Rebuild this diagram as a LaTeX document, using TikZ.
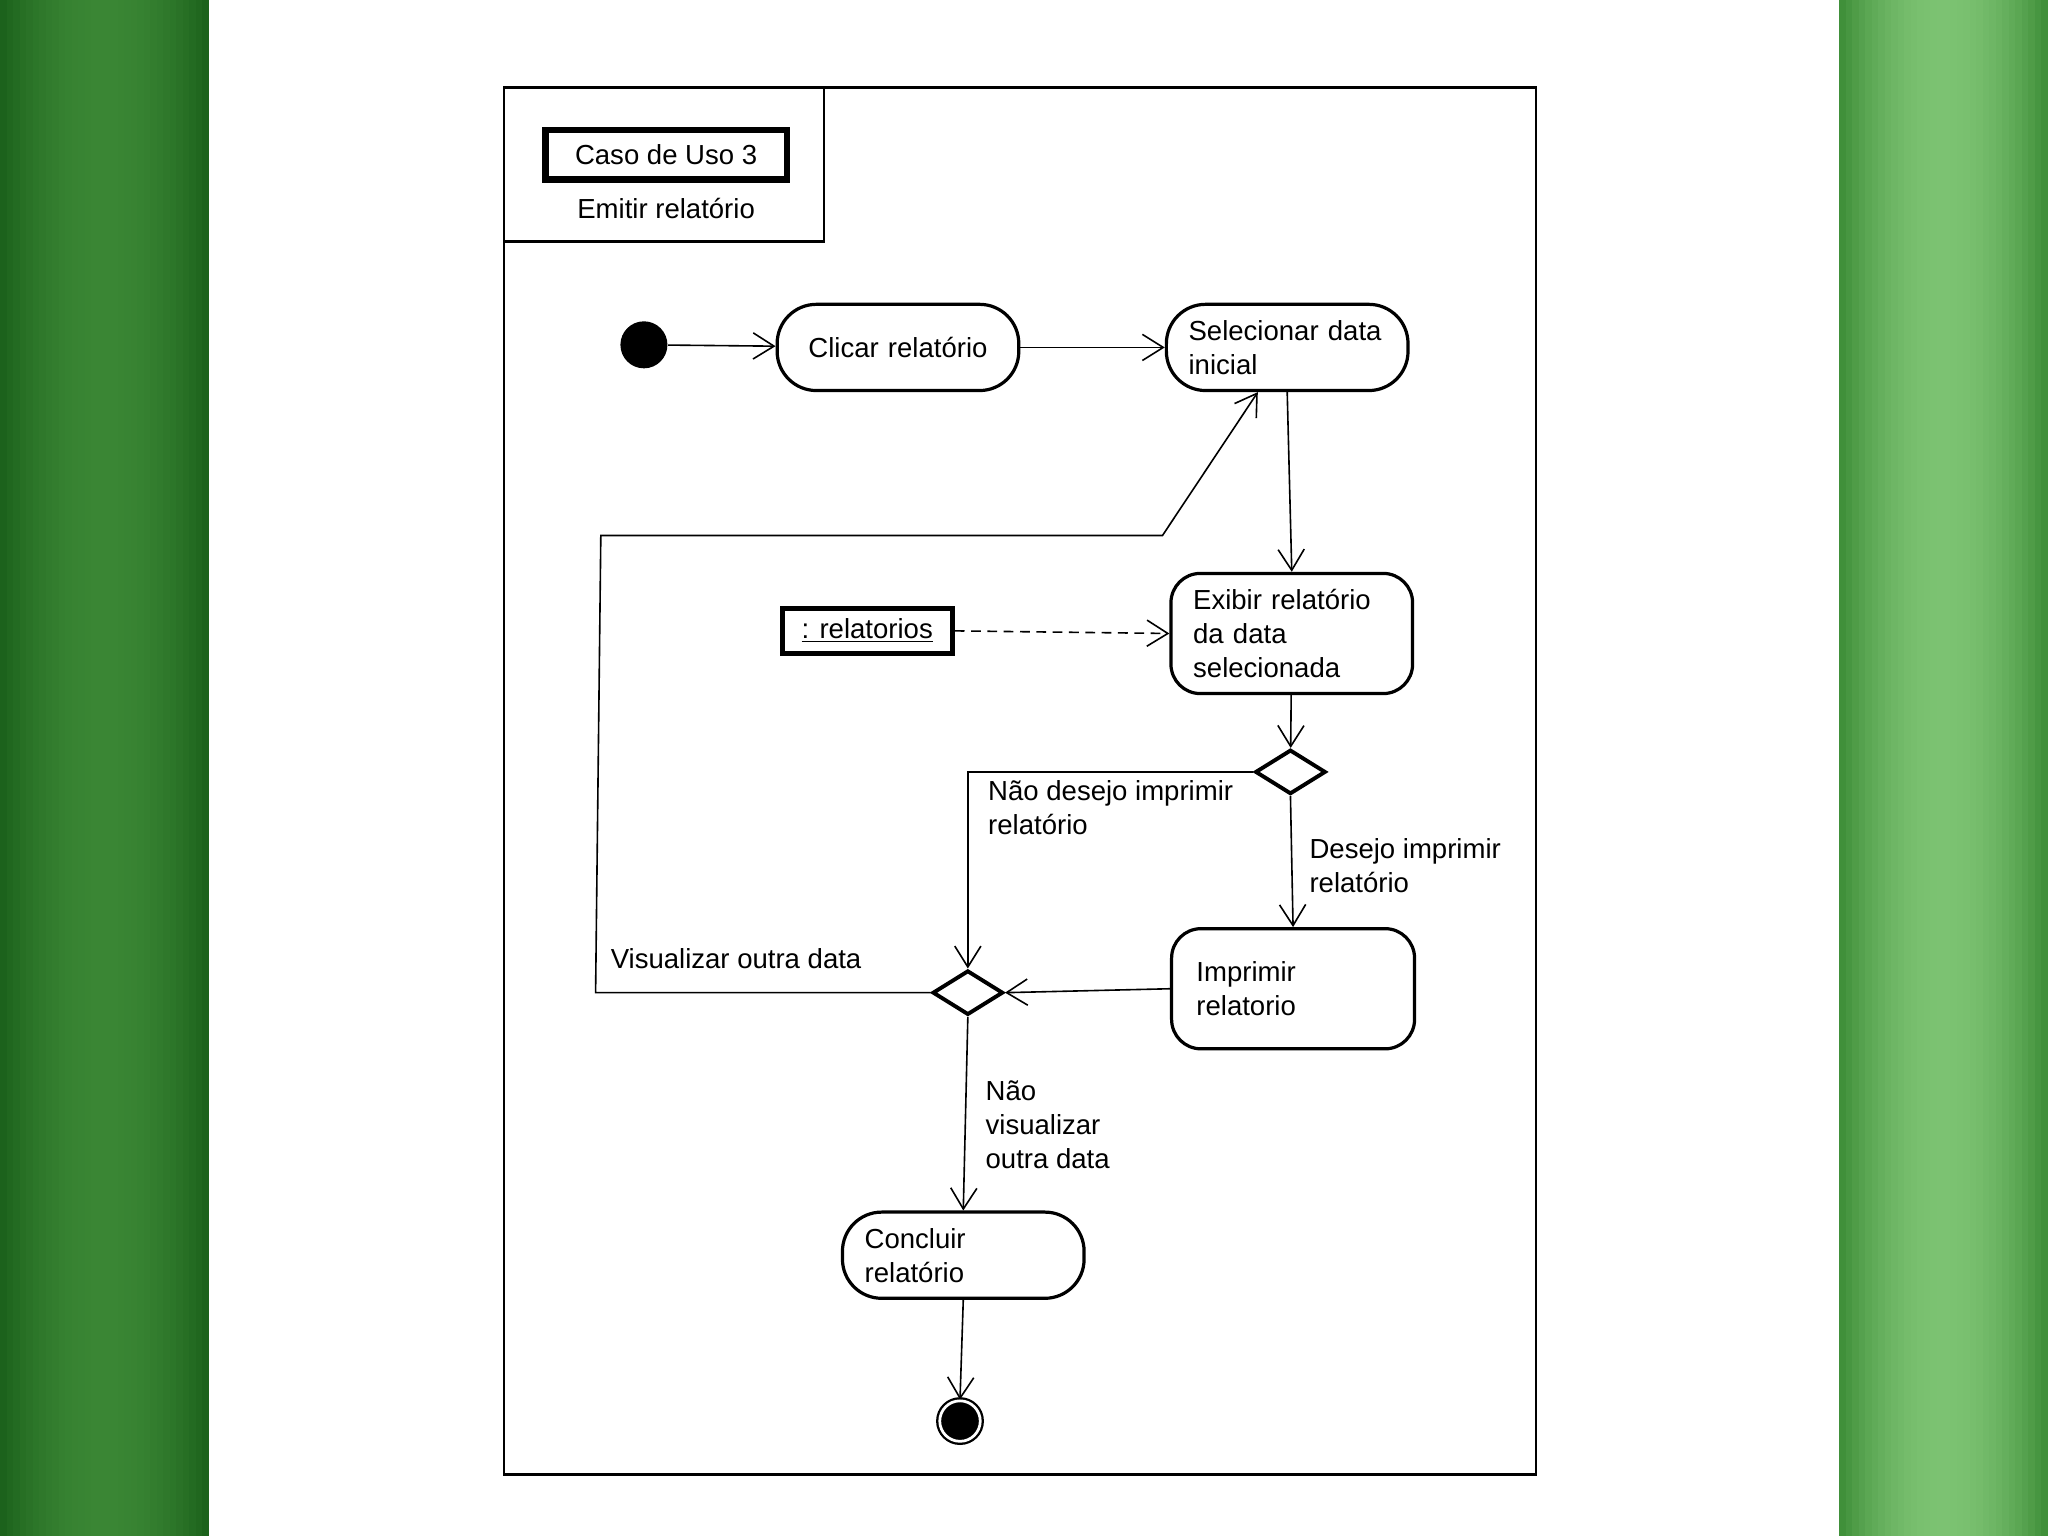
\documentclass[tikz,border=0pt]{standalone}
\usepackage{fontspec}
\setmainfont{Liberation Sans}
\usetikzlibrary{positioning, arrows.meta, shapes.geometric}
\definecolor{verdeA}{RGB}{28,98,28}
\definecolor{verdeB}{RGB}{58,134,52}
\definecolor{verdeC}{RGB}{64,144,58}
\definecolor{verdeD}{RGB}{124,194,114}
\tikzset{
  atividade/.style={
	-{Straight Barb[length=3.2mm,width=4mm]}, % open arrow heads as in UML
	line width=0.7pt, % thin connectors
	font=\fontsize{12}{14.8}\selectfont, % screen font size of the diagram
  },
  acao/.style={draw, line width=1.4pt, rounded corners=6mm, minimum height=13.2mm, inner xsep=3.4mm, text width=30.2mm, align=left}, % action state
  acaoalta/.style={acao, rounded corners=4.5mm, minimum height=18.4mm}, % action with three lines
  decisao/.style={diamond, draw, line width=1.7pt, minimum width=10.8mm, minimum height=6.8mm, inner sep=0pt},
  rotulo/.style={align=left, inner sep=0pt, anchor=west},
}
\begin{document}
\begin{tikzpicture}[atividade, x=0.2mm, y=-0.2mm]
	  \useasboundingbox (0,0) rectangle (1568,1176);
	  % green side bars, darker at the edges
	  \foreach \i in {0,...,31} {
		\pgfmathsetmacro\mistura{100*((\i-15.5)/15.5)^2}
		\fill[verdeA!\mistura!verdeB] (\i*5,0) rectangle (\i*5+5.3,1176);
		\fill[verdeC!\mistura!verdeD] (1408+\i*5,0) rectangle (1408+\i*5+5.3,1176);
	  }
	  % frame
	  \draw[-, line width=1.1pt] (386,67) rectangle (1176,1129);
	  \draw[-, line width=1.1pt] (386,67) rectangle (631,185);
	  \node[draw, line width=2.8pt, minimum width=37mm, minimum height=7.6mm] (caso) at (510,118.5) {Caso de Uso 3};
	  \node (titulo) at (510,160) {Emitir relatório};
	  % states
	  \node[circle, fill=black, minimum size=7.2mm, inner sep=0pt] (ini) at (493,264) {};
	  \node[acao, align=center, right of=ini, node distance=38.9mm, yshift=-0.4mm] (clicar) {Clicar relatório};
	  \node[acao, right of=clicar, node distance=59.6mm] (selecionar) {Selecionar data\\inicial};
	  \node[acaoalta, below of=selecionar, node distance=43.8mm, xshift=0.7mm] (exibir) {Exibir relatório\\da data\\selecionada};
	  \node[draw, line width=2.2pt, minimum width=26mm, minimum height=6.8mm] (relatorios) at (664,483) {\underline{: relatorios}};
	  \node[decisao] (dec1) at (988,591) {};
	  \node[acaoalta, inner xsep=3.8mm, text width=29.6mm] (imprimir) at (990,757) {Imprimir\\relatorio};
	  \node[decisao] (dec2) at (741,760) {};
	  \node[acao] (concluir) at (737.5,961) {Concluir\\relatório};
	  \node[circle, fill=black, draw, double=white, double distance=1.2pt, line width=1pt, minimum size=6.2mm, inner sep=0pt] (fim) at (735,1088) {};
	  % helper points of the loop back
	  \coordinate (v1) at (456,760);
	  \coordinate (v2) at (460,410);
	  \coordinate (v3) at (890,410);
	  % labels
	  \node[rotulo] (lnao) at (756,618) {Não desejo imprimir\\relatório};
	  \node[rotulo] (lsim) at (1002,663) {Desejo imprimir\\relatório};
	  \node[rotulo] (lvis) at (467,734) {Visualizar outra data};
	  \node[rotulo] (lfim) at (754,861) {Não\\visualizar\\outra data};
	  \draw (ini) -- (clicar);
	  \draw (clicar) -- (selecionar);
	  \draw (selecionar.south) -- (exibir.north);
	  \draw[dash pattern=on 1.5mm off 1mm] (relatorios.east) -- (exibir.west);
	  \draw (exibir) -- (dec1);
	  \draw (dec1.west) -| (dec2.north);
	  \draw (dec1.south) -- (imprimir.north);
	  \draw (imprimir.west) -- (dec2.east);
	  \draw (dec2.west) -- (v1) -- (v2) -- (v3) -- ([xshift=-4.5mm]selecionar.south);
	  \draw (dec2.south) -- (concluir.north);
	  \draw (concluir.south) -- (fim.north);
	  \end{tikzpicture}
\end{document}
